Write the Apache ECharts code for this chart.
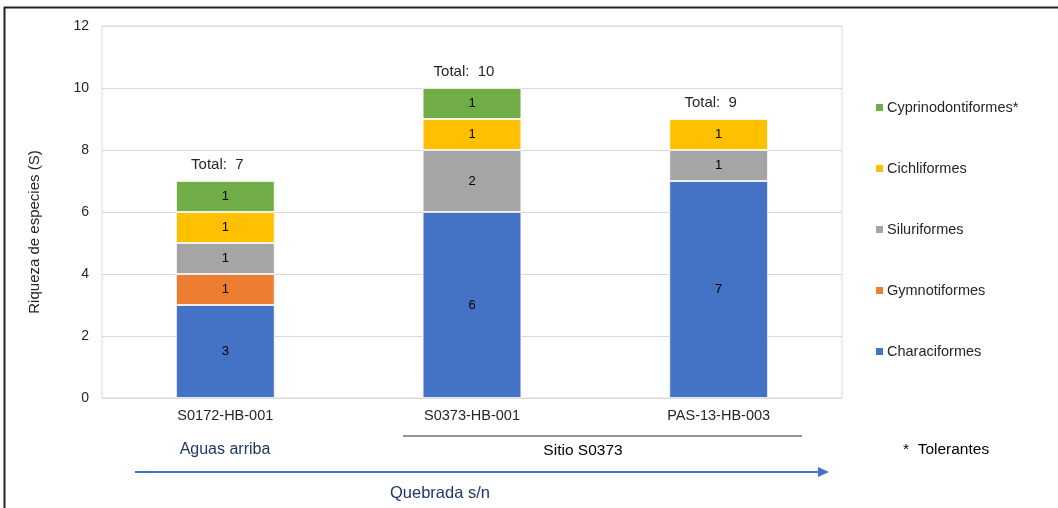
<!DOCTYPE html>
<html>
<head>
<meta charset="utf-8">
<script src="https://cdn.jsdelivr.net/npm/echarts@6/dist/echarts.min.js"></script>
<style>
  html, body { margin: 0; padding: 0; background: #fff; }
  #chart { width: 1058px; height: 508px; }
</style>
</head>
<body>
<div id="chart"></div>
<script>
// Species richness per sampling station, stacked by fish order
const stations = ['S0172-HB-001', 'S0373-HB-001', 'PAS-13-HB-003'];
const characiformes = [3, 6, 7];
const gymnotiformes = [1, 0, 0];
const siluriformes = [1, 2, 1];
const cichliformes = [1, 1, 1];
const cyprinodontiformes = [1, 1, 0];
const yTicks = { min: 0, max: 12, interval: 2 };

const orders = [
  { name: 'Characiformes', data: characiformes, color: '#4472C4' },
  { name: 'Gymnotiformes', data: gymnotiformes, color: '#ED7D31' },
  { name: 'Siluriformes', data: siluriformes, color: '#A5A5A5' },
  { name: 'Cichliformes', data: cichliformes, color: '#FFC000' },
  { name: 'Cyprinodontiformes*', data: cyprinodontiformes, color: '#70AD47' }
];

const totals = stations.map((_, i) => orders.reduce((s, o) => s + o.data[i], 0));

const font = 'Liberation Sans, Arial, sans-serif';
const chart = echarts.init(document.getElementById('chart'));

const barSeries = orders.map(o => ({
  name: o.name,
  type: 'bar',
  stack: 'riqueza',
  barWidth: '40%',
  data: o.data.map(v => (v === 0 ? null : v)),
  itemStyle: { color: o.color, borderColor: '#ffffff', borderWidth: 0.8 },
  label: {
    show: true,
    position: 'inside',
    color: '#000',
    fontFamily: font,
    fontSize: 13
  },
  emphasis: { disabled: true }
}));

// Totals written above each stacked column
const totalSeries = {
  name: 'Total',
  type: 'line',
  data: totals,
  symbol: 'circle',
  symbolSize: 0,
  lineStyle: { opacity: 0 },
  label: {
    show: true,
    position: 'top',
    distance: 9,
    offset: [-8, 0],
    formatter: p => 'Total:  ' + p.value,
    color: '#262626',
    fontFamily: font,
    fontSize: 15
  },
  silent: true,
  z: 5
};

chart.setOption({
  animation: false,
  backgroundColor: '#fff',
  grid: {
    left: 102, right: 216, top: 26, bottom: 110,
    show: true, borderColor: '#D9D9D9', borderWidth: 1
  },
  legend: {
    orient: 'vertical',
    left: 869,
    top: 95,
    itemWidth: 9,
    itemHeight: 9,
    itemGap: 46,
    icon: 'rect',
    data: orders.slice().reverse().map(o => o.name),
    textStyle: { fontFamily: font, fontSize: 14.5, color: '#262626', lineHeight: 15, padding: [0, 0, 0, -2] }
  },
  xAxis: {
    type: 'category',
    data: stations,
    axisLine: { show: false },
    axisTick: { show: false },
    axisLabel: { color: '#262626', fontFamily: font, fontSize: 14.5, margin: 10 }
  },
  yAxis: {
    type: 'value',
    min: yTicks.min,
    max: yTicks.max,
    interval: yTicks.interval,
    name: 'Riqueza de especies (S)',
    nameLocation: 'middle',
    nameGap: 60,
    nameTextStyle: { fontFamily: font, fontSize: 15, color: '#262626', padding: [0, 40, 0, 0] },
    axisLine: { show: false },
    axisTick: { show: false },
    axisLabel: { color: '#262626', fontFamily: font, fontSize: 14, margin: 13 },
    splitLine: { lineStyle: { color: '#D9D9D9' } }
  },
  series: [...barSeries, totalSeries],
  graphic: [
    // frame
    { type: 'line', shape: { x1: 4, y1: 7.5, x2: 1058, y2: 7.5 }, style: { stroke: '#222', lineWidth: 2 } },
    { type: 'line', shape: { x1: 4.5, y1: 7, x2: 4.5, y2: 508 }, style: { stroke: '#222', lineWidth: 2 } },
    // site grouping
    { type: 'line', shape: { x1: 403, y1: 436, x2: 802, y2: 436 }, style: { stroke: '#262626', lineWidth: 1 } },
    { type: 'text', x: 225, y: 450, style: { text: 'Aguas arriba', fill: '#1F3864', font: '16px ' + font, textAlign: 'center', textVerticalAlign: 'middle' } },
    { type: 'text', x: 583, y: 451, style: { text: 'Sitio S0373', fill: '#000', font: '15.5px ' + font, textAlign: 'center', textVerticalAlign: 'middle' } },
    { type: 'text', x: 903, y: 450, style: { text: '*  Tolerantes', fill: '#000', font: '15.5px ' + font, textAlign: 'left', textVerticalAlign: 'middle' } },
    // stream direction arrow
    { type: 'line', shape: { x1: 135, y1: 472, x2: 820, y2: 472 }, style: { stroke: '#4472C4', lineWidth: 2 } },
    { type: 'polygon', shape: { points: [[818, 467], [829, 472], [818, 477]] }, style: { fill: '#4472C4' } },
    { type: 'text', x: 440, y: 493, style: { text: 'Quebrada s/n', fill: '#1F3864', font: '16.5px ' + font, textAlign: 'center', textVerticalAlign: 'middle' } }
  ]
});
</script>
</body>
</html>
